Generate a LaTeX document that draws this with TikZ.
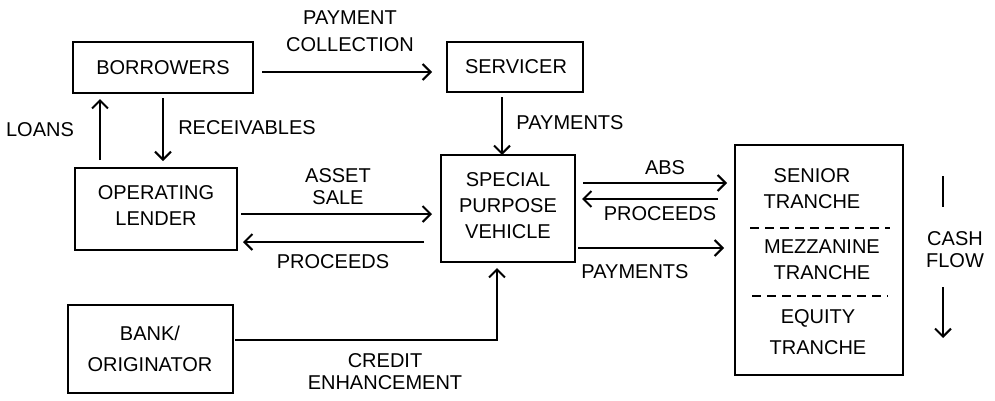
\documentclass[tikz,border=0pt]{standalone}
\usepackage{fontspec}
\setmainfont{Liberation Sans}
\usetikzlibrary{arrows.meta}
\begin{document}
\begin{tikzpicture}[x=1pt,y=-1pt,
  lbl/.style={font=\fontsize{20}{25}\selectfont,align=center,inner sep=1pt},
  boxtxt/.style={font=\fontsize{20}{26}\selectfont,align=center},
  flow/.style={line width=2pt,-{Straight Barb[length=8pt,width=16pt,line width=2pt]}},
  plain/.style={line width=2pt},
  divider/.style={line width=1.2pt,dash pattern=on 9pt off 6pt}]
\useasboundingbox (0,0) rectangle (995,400);
% boxes
\draw[plain] (73,42) rectangle (253,93);
\node[boxtxt] (bor) at (163,67.5) {BORROWERS};
\draw[plain] (447,42) rectangle (583,92);
\node[boxtxt] (ser) at (516,67) {SERVICER};
\draw[plain] (75,168) rectangle (237,250);
\node[boxtxt] (ol) at (156,206) {OPERATING\\LENDER};
\draw[plain] (441,155) rectangle (575,262);
\node[boxtxt] (spv) at (508,206) {SPECIAL\\PURPOSE\\VEHICLE};
\draw[plain] (68,305) rectangle (233,393);
\node[boxtxt,font=\fontsize{20}{31}\selectfont] (bank) at (150,349) {BANK/\\ORIGINATOR};
\draw[plain] (735,145) rectangle (903,375);
\node[boxtxt] (sen) at (812,189) {SENIOR\\TRANCHE};
\node[boxtxt] (mez) at (822,260) {MEZZANINE\\TRANCHE};
\node[boxtxt,font=\fontsize{20}{31}\selectfont] (eq) at (818,332) {EQUITY\\TRANCHE};
\draw[divider] (750,228) -- (890,228);
\draw[divider] (752,296) -- (888,296);
% coordinates for connectors
\coordinate (a1) at (262,72); \coordinate (a2) at (432,72);
\coordinate (l1) at (100,160); \coordinate (l2) at (100,99);
\coordinate (r1) at (163,98); \coordinate (r2) at (163,161);
\coordinate (p1) at (502,97); \coordinate (p2) at (502,155);
\coordinate (as1) at (241,214); \coordinate (as2) at (432,214);
\coordinate (pr1) at (424,242); \coordinate (pr2) at (243,242);
\coordinate (ce1) at (235,340); \coordinate (ce2) at (497,340); \coordinate (ce3) at (497,268);
\coordinate (ab1) at (583,183); \coordinate (ab2) at (727,183);
\coordinate (pq1) at (718,199); \coordinate (pq2) at (582,199);
\coordinate (pm1) at (578,248); \coordinate (pm2) at (724,248);
\coordinate (cf1) at (943,176); \coordinate (cf2) at (943,207);
\coordinate (cf3) at (943,287); \coordinate (cf4) at (943,338);
% connectors
\draw[flow] (a1) -- (a2);
\node[lbl,font=\fontsize{20}{27}\selectfont] (payc) at (350,31) {PAYMENT\\COLLECTION};
\draw[flow] (l1) -- (l2);
\node[lbl] (loans) at (40,130) {LOANS};
\draw[flow] (r1) -- (r2);
\node[lbl] (rec) at (247,128) {RECEIVABLES};
\draw[flow] (p1) -- (p2);
\node[lbl] (pay1) at (570,123) {PAYMENTS};
\draw[flow] (as1) -- (as2);
\node[lbl,font=\fontsize{20}{22}\selectfont] (asale) at (338,187) {ASSET\\SALE};
\draw[flow] (pr1) -- (pr2);
\node[lbl] (proc1) at (333,262) {PROCEEDS};
\draw[flow] (ce1) -- (ce2) -- (ce3);
\node[lbl,font=\fontsize{20}{22}\selectfont] (cred) at (385,372) {CREDIT\\ENHANCEMENT};
\draw[flow] (ab1) -- (ab2);
\node[lbl] (abs) at (665,168) {ABS};
\draw[flow] (pq1) -- (pq2);
\node[lbl] (proc2) at (660,214) {PROCEEDS};
\draw[flow] (pm1) -- (pm2);
\node[lbl] (pay2) at (635,272) {PAYMENTS};
\draw[plain] (cf1) -- (cf2);
\node[lbl,font=\fontsize{20}{22}\selectfont] (cash) at (955,250) {CASH\\FLOW};
\draw[flow] (cf3) -- (cf4);
\end{tikzpicture}
\end{document}
